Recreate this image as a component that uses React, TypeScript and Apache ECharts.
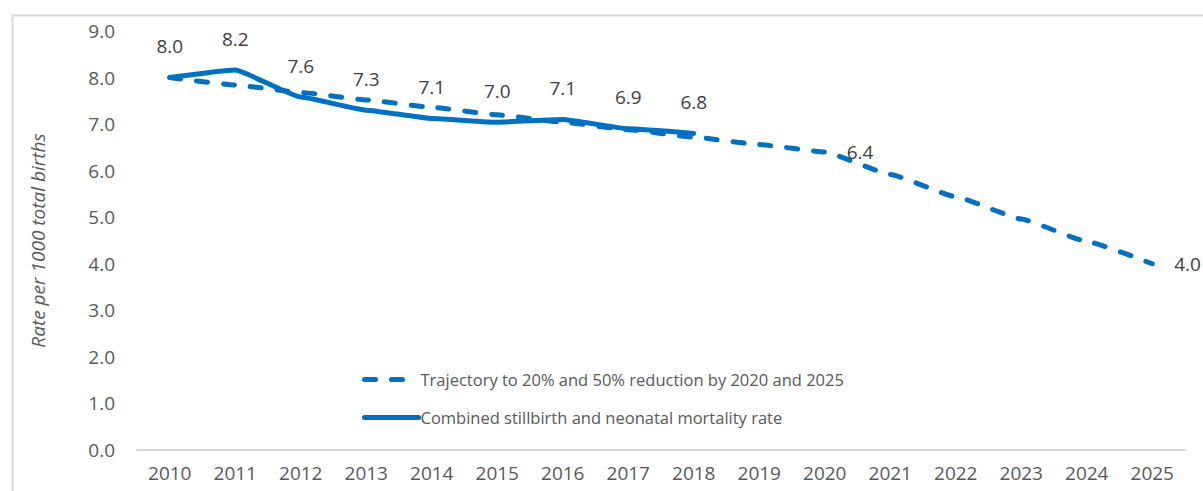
import React, { useEffect, useRef } from "react";
import * as echarts from "echarts";

const years = ["2010","2011","2012","2013","2014","2015","2016","2017","2018","2019","2020","2021","2022","2023","2024","2025"];
const trajectory = [8.0, 7.84, 7.68, 7.52, 7.36, 7.2, 7.04, 6.88, 6.72, 6.56, 6.4, 5.92, 5.44, 4.96, 4.48, 4.0];
const combined: (number | null)[] = [8.0, 8.16, 7.58, 7.3, 7.12, 7.04, 7.1, 6.9, 6.8, null, null, null, null, null, null, null];
const combinedLabels = ["8.0", "8.2", "7.6", "7.3", "7.1", "7.0", "7.1", "6.9", "6.8"];
const trajectoryLabelYears = ["2020", "2025"];
const yTicks = [0, 1, 2, 3, 4, 5, 6, 7, 8, 9];

const FONT = "'Open Sans', 'Noto Sans', sans-serif";
const BLUE = "#0070C0";

export default function App() {
  const ref = useRef<HTMLDivElement>(null);
  useEffect(() => {
    const chart = echarts.init(ref.current!, null, { renderer: "svg" });
    chart.setOption({
      animation: false,
      backgroundColor: "#ffffff",
      textStyle: { fontFamily: FONT },
      grid: { left: 137, right: 18, top: 31, bottom: 41 },
      graphic: [
        {
          type: "rect",
          left: 10,
          top: 13,
          shape: { width: 1300, height: 600 },
          style: { fill: "none", stroke: "#d9d9d9", lineWidth: 2 },
          z: -1,
          silent: true,
        },
      ],
      legend: {
        orient: "vertical",
        left: 357,
        top: 366,
        itemWidth: 54,
        itemHeight: 14,
        itemGap: 21,
        itemStyle: { opacity: 0 },
        lineStyle: { width: 5, cap: "round" },
        textStyle: { fontSize: 16.5, color: "#595959", fontFamily: FONT, padding: [0, 0, 0, -3] },
        data: [
          "Trajectory to 20% and 50% reduction by 2020 and 2025",
          "Combined stillbirth and neonatal mortality rate",
        ],
      },
      xAxis: {
        type: "category",
        data: years,
        boundaryGap: true,
        axisLine: { lineStyle: { color: "#d9d9d9", width: 2 } },
        axisTick: { show: false },
        axisLabel: { fontSize: 19, color: "#595959", margin: 13, fontFamily: FONT, interval: 0 },
      },
      yAxis: {
        type: "value",
        min: yTicks[0],
        max: yTicks[yTicks.length - 1],
        interval: 1,
        name: "Rate per 1000 total births",
        nameLocation: "middle",
        nameGap: 90,
        nameTextStyle: { fontSize: 19, fontStyle: "italic", color: "#595959", fontFamily: FONT },
        splitLine: { show: false },
        axisLine: { show: false },
        axisTick: { show: false },
        axisLabel: {
          fontSize: 19,
          color: "#595959",
          margin: 22,
          fontFamily: FONT,
          formatter: (v: number) => v.toFixed(1),
        },
      },
      series: [
        {
          name: "Trajectory to 20% and 50% reduction by 2020 and 2025",
          type: "line",
          symbol: "circle",
          symbolSize: 0,
          showSymbol: true,
          smooth: 0.12,
          smoothMonotone: "x",
          data: trajectory.map((v, i) => ({
            value: v,
            label: {
              show: trajectoryLabelYears.includes(years[i]),
              position: "right",
              distance: 22,
              formatter: v.toFixed(1),
              fontSize: 19,
              color: "#404040",
              fontFamily: FONT,
            },
          })),
          lineStyle: { color: BLUE, width: 5, type: [11, 16], cap: "round" },
          itemStyle: { color: BLUE },
          z: 2,
        },
        {
          name: "Combined stillbirth and neonatal mortality rate",
          type: "line",
          symbol: "circle",
          symbolSize: 0,
          showSymbol: true,
          smooth: 0.12,
          smoothMonotone: "x",
          data: combined.map((v, i) => ({
            value: v,
            label: {
              show: v !== null,
              position: "top",
              distance: 22,
              formatter: combinedLabels[i] ?? "",
              fontSize: 19,
              color: "#404040",
              fontFamily: FONT,
            },
          })),
          lineStyle: { color: BLUE, width: 5, cap: "round", join: "round" },
          itemStyle: { color: BLUE },
          z: 3,
        },
      ],
    });
    return () => chart.dispose();
  }, []);
  return (
    <div
      ref={ref}
      style={{ position: "absolute", left: 0, top: 0, width: 1203, height: 491 }}
    />
  );
}
